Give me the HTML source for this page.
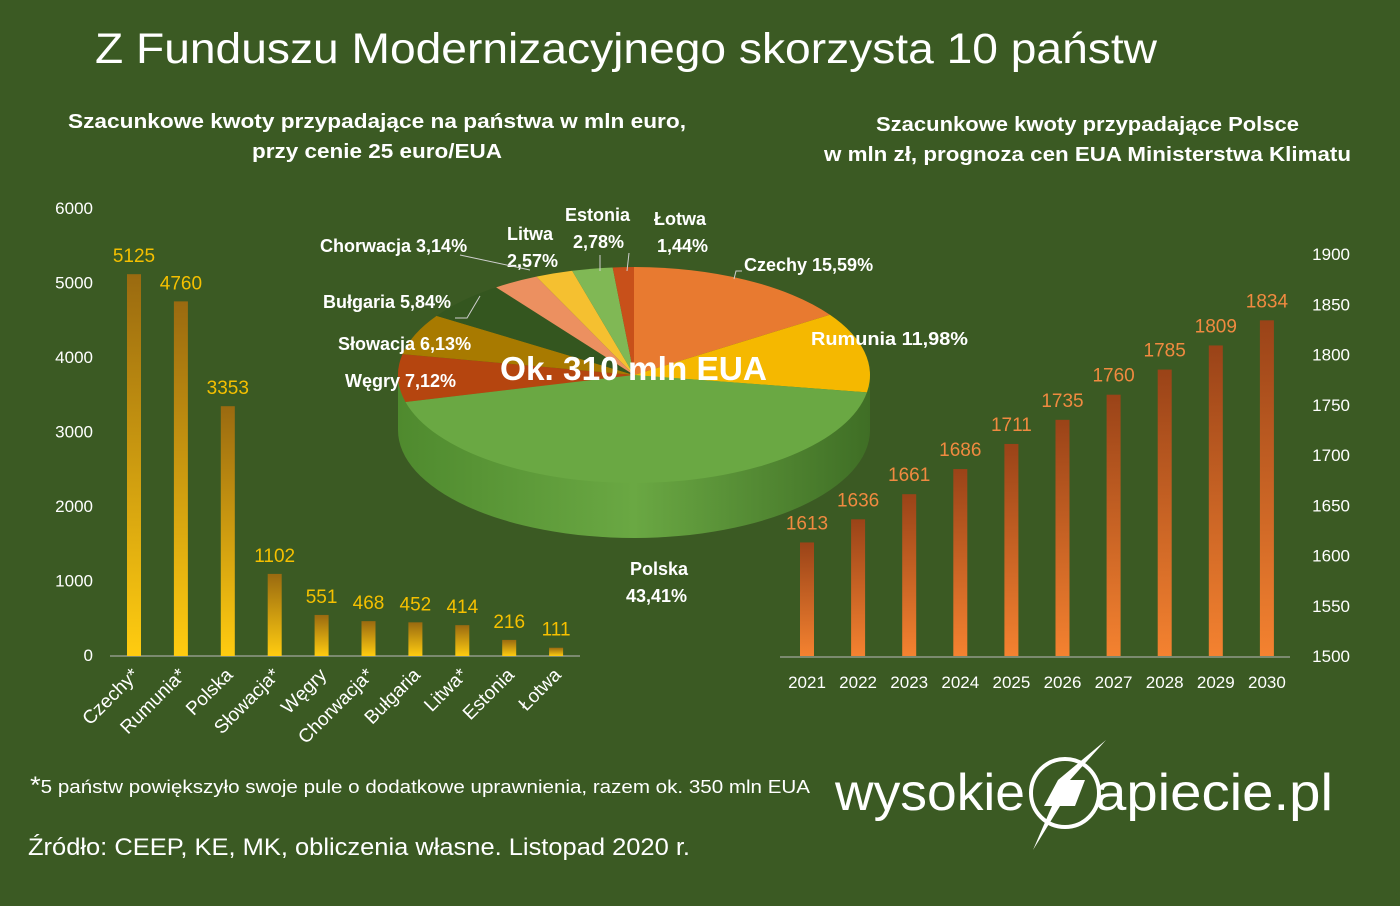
<!DOCTYPE html>
<html><head><meta charset="utf-8"><style>
html,body{margin:0;padding:0;background:#3b5a23;}
svg{display:block;font-family:"Liberation Sans",sans-serif;}
</style></head><body>
<svg id="s" width="1400" height="906" viewBox="0 0 1400 906" xmlns="http://www.w3.org/2000/svg">
<defs>
<linearGradient id="gg" x1="0" y1="0" x2="0" y2="1"><stop offset="0" stop-color="#9a6a10"/><stop offset="1" stop-color="#ffcc10"/></linearGradient>
<linearGradient id="go" x1="0" y1="0" x2="0" y2="1"><stop offset="0" stop-color="#9a4318"/><stop offset="1" stop-color="#f48230"/></linearGradient>
<linearGradient id="side" x1="0" y1="0" x2="1" y2="0"><stop offset="0" stop-color="#4f8a2e"/><stop offset="0.5" stop-color="#6aa843"/><stop offset="1" stop-color="#3f6e25"/></linearGradient>
</defs>
<rect width="1400" height="906" fill="#3b5a23"/>
<text x="95" y="63" font-size="43" fill="#fff" textLength="1062" lengthAdjust="spacingAndGlyphs">Z Funduszu Modernizacyjnego skorzysta 10 państw</text>
<g font-size="20" font-weight="bold" fill="#fff">
<text x="68" y="128" textLength="618" lengthAdjust="spacingAndGlyphs">Szacunkowe kwoty przypadające  na państwa w mln euro,</text>
<text x="252" y="158" textLength="250" lengthAdjust="spacingAndGlyphs">przy cenie 25 euro/EUA</text>
<text x="876" y="131" textLength="423" lengthAdjust="spacingAndGlyphs">Szacunkowe kwoty przypadające Polsce</text>
<text x="824" y="161" textLength="527" lengthAdjust="spacingAndGlyphs">w mln zł, prognoza cen EUA Ministerstwa Klimatu</text>
</g>
<g id="left" font-size="17" fill="#fff"></g>
<g id="right" font-size="17" fill="#fff"></g>
<g id="pie"></g>
<g font-size="18" font-weight="bold" fill="#fff">
<text x="320" y="252">Chorwacja 3,14%</text>
<text x="507" y="240">Litwa</text><text x="507" y="267">2,57%</text>
<text x="565" y="221">Estonia</text><text x="573" y="248">2,78%</text>
<text x="654" y="225">Łotwa</text><text x="657" y="252">1,44%</text>
<text x="744" y="271">Czechy 15,59%</text>
<text x="323" y="308">Bułgaria 5,84%</text>
<text x="811" y="345" textLength="157" lengthAdjust="spacingAndGlyphs">Rumunia 11,98%</text>
<text x="338" y="350">Słowacja 6,13%</text>
<text x="345" y="387">Węgry 7,12%</text>
<text x="630" y="575">Polska</text><text x="626" y="602">43,41%</text>
</g>
<text x="500" y="380" font-size="33" font-weight="bold" fill="#fff" textLength="267" lengthAdjust="spacingAndGlyphs">Ok. 310 mln EUA</text>
<g stroke="#cfcfcf" stroke-width="1" fill="none">
<polyline points="460,255 530,270"/><polyline points="480,296 467,318 455,318"/>
<polyline points="600,255 600,271"/><polyline points="629,253 627,271"/>
<polyline points="742,271 736,271 734,279"/>
</g>
<text x="30" y="793" font-size="18" fill="#fff" textLength="780" lengthAdjust="spacingAndGlyphs"><tspan font-size="24">*</tspan>5 państw powiększyło swoje pule o dodatkowe uprawnienia, razem ok. 350 mln EUA</text>
<text x="28" y="855" font-size="24" fill="#fff" textLength="662" lengthAdjust="spacingAndGlyphs">Źródło: CEEP, KE, MK, obliczenia własne. Listopad 2020 r.</text>
<g fill="#fff">
<text x="835" y="810" font-size="52" textLength="190" lengthAdjust="spacingAndGlyphs">wysokie</text>
<circle cx="1065" cy="793" r="34" fill="none" stroke="#fff" stroke-width="4"/>
<polygon points="1106,740 1070,780 1085,780 1075,806 1060,806 1033,850 1052,806 1044,806 1058,780" />
<text x="1095" y="810" font-size="52" textLength="238" lengthAdjust="spacingAndGlyphs">apiecie.pl</text>
</g>
<script>
var NS="http://www.w3.org/2000/svg";
function el(p,t,a,txt){var e=document.createElementNS(NS,t);for(var k in a)e.setAttribute(k,a[k]);if(txt!==undefined)e.textContent=txt;p.appendChild(e);return e;}
var L=document.getElementById('left');
[0,1000,2000,3000,4000,5000,6000].forEach(function(v){el(L,'text',{x:93,y:661-v*0.0745,'text-anchor':'end'},v);});
el(L,'line',{x1:110,y1:656,x2:580,y2:656,stroke:'#bbb','stroke-width':1});
var names=['Czechy*','Rumunia*','Polska','Słowacja*','Węgry','Chorwacja*','Bułgaria','Litwa*','Estonia','Łotwa'];
var vals=[5125,4760,3353,1102,551,468,452,414,216,111];
vals.forEach(function(v,i){var cx=134+i*46.9;var h=v*0.0745;
el(L,'rect',{x:cx-7,y:656-h,width:14,height:h,fill:'url(#gg)'});
el(L,'text',{x:cx,y:656-h-12,'text-anchor':'middle',fill:'#f5c000','font-size':19},v);
el(L,'text',{x:cx+6,y:676,'text-anchor':'end',transform:'rotate(-45 '+(cx+6)+' 676)','font-size':19},names[i]);});
var R=document.getElementById('right');
for(var v=1500;v<=1900;v+=50)el(R,'text',{x:1350,y:662-(v-1500)*1.005,'text-anchor':'end'},v);
el(R,'line',{x1:780,y1:657,x2:1290,y2:657,stroke:'#bbb','stroke-width':1});
var rv=[1613,1636,1661,1686,1711,1735,1760,1785,1809,1834];
rv.forEach(function(v,i){var cx=807+i*51.1;var h=(v-1500)*1.005;
el(R,'rect',{x:cx-7,y:656-h,width:14,height:h,fill:'url(#go)'});
el(R,'text',{x:cx,y:656-h-13,'text-anchor':'middle',fill:'#f08a40','font-size':19},v);
el(R,'text',{x:cx,y:688,'text-anchor':'middle'},2021+i);});
var P=document.getElementById('pie');
var cx=634,cy=375,rx=236,ry=108,d=55;
el(P,'path',{d:'M'+(cx-rx)+','+cy+' L'+(cx-rx)+','+(cy+d)+' A'+rx+','+ry+' 0 0 0 '+(cx+rx)+','+(cy+d)+' L'+(cx+rx)+','+cy+' Z',fill:'url(#side)'});
var sl=[[15.59,'#e87a30'],[11.98,'#f5b800'],[43.41,'#6aa843'],[7.12,'#b5450f'],[6.13,'#a87a00'],[5.84,'#34561f'],[3.14,'#ec9060'],[2.57,'#f5c030'],[2.78,'#80b855'],[1.44,'#c8501a']];
var a=0;
function pt(t){return [cx+rx*Math.sin(t),cy-ry*Math.cos(t)];}
sl.forEach(function(s){var a0=a/100*2*Math.PI;a+=s[0];var a1=a/100*2*Math.PI;
var p0=pt(a0),p1=pt(a1);var lg=(a1-a0)>Math.PI?1:0;
el(P,'path',{d:'M'+cx+','+cy+' L'+p0[0]+','+p0[1]+' A'+rx+','+ry+' 0 '+lg+' 1 '+p1[0]+','+p1[1]+' Z',fill:s[1]});});
</script>
</svg>
</body></html>
